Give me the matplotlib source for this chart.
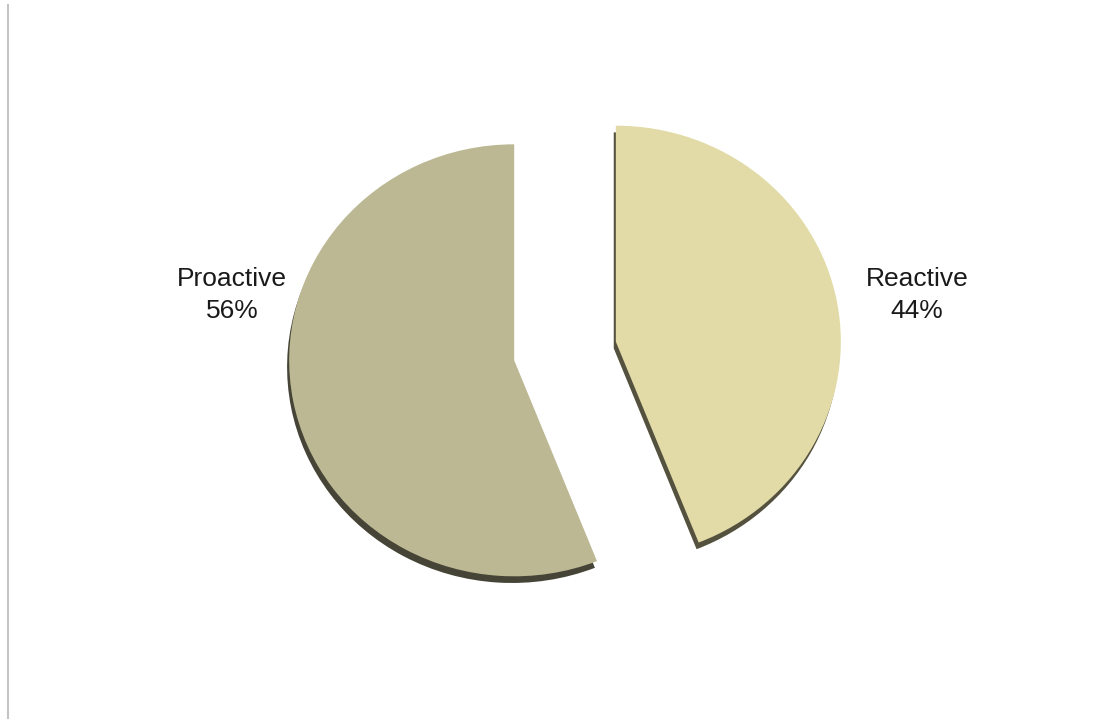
import matplotlib.pyplot as plt
import numpy as np

labels = ["Proactive", "Reactive"]
shares = [56, 44]
colors = ["#bcb893", "#e2dba7"]

plt.rcParams['font.family'] = ['Liberation Sans', 'DejaVu Sans']

fig = plt.figure(figsize=(11.16, 7.19), dpi=100)
ax = fig.add_axes([0, 0, 1, 1])

# pixel-style coordinates; the slide squashes the pie slightly in height
W, H = 1116, 719
sy = 0.96
cx, cy, r = 565, (H - 351) / sy, 225
gap = 0.23 * r   # pie's explode is in data units, not radius units

wedges, _ = ax.pie(shares, colors=colors, startangle=90, counterclock=True,
                   center=(cx, cy), radius=r, explode=[gap, gap],
                   wedgeprops=dict(linewidth=0),
                   shadow=dict(ox=-1.5, oy=-5.0, shade=0.63, alpha=1.0))

ax.set_xlim(0, W)
ax.set_ylim(0, H / sy)
ax.set_aspect('auto')
ax.axis('off')

# labels placed beside each slice
label_pos = [(232, (H - 295) / sy), (917, (H - 295) / sy)]
for name, pct, (lx, ly) in zip(labels, shares, label_pos):
    ax.text(lx, ly, f"{name}\n{pct}%", ha='center', va='center',
            fontsize=19, color='#1a1a1a', linespacing=1.4)

# thin grey rule on the left edge of the slide
fig.add_artist(plt.Line2D([8 / W, 8 / W], [0, 1 - 5 / H], color='#c4c4c4', lw=1.5))

fig.savefig("out.png", dpi=100)
